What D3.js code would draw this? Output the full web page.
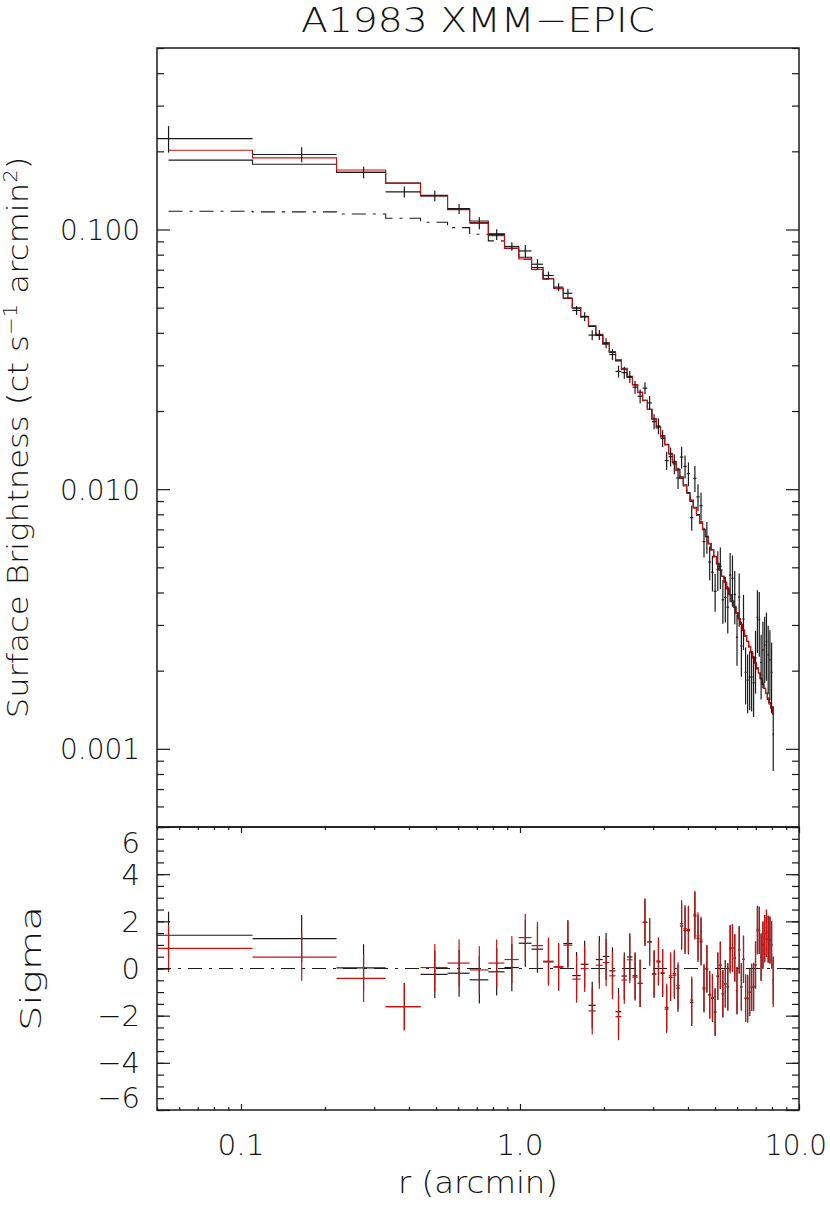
<!DOCTYPE html>
<html><head><meta charset="utf-8">
<script src="https://cdn.jsdelivr.net/npm/d3@7"></script>
<style>
html,body{margin:0;padding:0;background:#fff;}
svg text{font-family:"DejaVu Sans",sans-serif;font-weight:200;fill:#111;}
</style></head><body>
<svg id="chart" width="830" height="1206"></svg>
<script>
// ---------------- DATA ----------------
const title = "A1983 XMM\u2212EPIC";
const xTitle = "r (arcmin)";
const yTitleBottom = "Sigma";
const rCenters = [0.055,0.165,0.275,0.385,0.495,0.605,0.715,0.825,0.935,1.045,1.155,1.265,1.375,1.485,1.595,1.705,1.815,1.925,2.035,2.145,2.255,2.365,2.475,2.585,2.695,2.805,2.915,3.025,3.135,3.245,3.355,3.465,3.575,3.685,3.795,3.905,4.015,4.125,4.235,4.345,4.455,4.565,4.675,4.785,4.895,5.005,5.115,5.225,5.335,5.445,5.555,5.665,5.775,5.885,5.995,6.105,6.215,6.325,6.435,6.545,6.655,6.765,6.875,6.985,7.095,7.205,7.315,7.425,7.535,7.645,7.755,7.865,7.975,8.085];
const binHalfWidth = 0.055;
const brightness = [0.2239,0.1945,0.1661,0.1397,0.1348,0.1200,0.1058,0.0957,0.0860,0.0827,0.0735,0.0665,0.0600,0.0568,0.0488,0.0462,0.0392,0.0393,0.0365,0.0330,0.0284,0.0281,0.0271,0.0247,0.0228,0.0245,0.02149,0.01821,0.01751,0.01567,0.01289,0.01334,0.01252,0.01105,0.01329,0.01224,0.01148,0.00777,0.01101,0.00934,0.00864,0.00628,0.00656,0.00524,0.00479,0.00404,0.00491,0.00504,0.00375,0.00383,0.00351,0.00467,0.00454,0.00393,0.00269,0.00384,0.00249,0.00316,0.00197,0.00184,0.00189,0.00189,0.00180,0.00224,0.00321,0.00314,0.00215,0.00240,0.00251,0.00259,0.00230,0.00220,0.00197,0.00114];
const brightnessErr = [0.0262,0.0129,0.00854,0.00681,0.00635,0.00532,0.00567,0.00452,0.00323,0.00446,0.00340,0.00233,0.00212,0.00227,0.00193,0.00184,0.00171,0.00173,0.00161,0.00161,0.00149,0.00149,0.00144,0.00142,0.00141,0.00130,0.00133,0.00121,0.00124,0.00118,0.00103,0.00112,0.00111,0.00103,0.00129,0.00124,0.00121,0.000856,0.00126,0.00111,0.00106,0.000827,0.000920,0.000779,0.000753,0.000669,0.000854,0.000919,0.000715,0.000762,0.000727,0.001005,0.001014,0.000910,0.000601,0.000889,0.000596,0.000757,0.000488,0.000470,0.000483,0.000498,0.000474,0.000607,0.000870,0.000876,0.000600,0.000688,0.000719,0.000762,0.000677,0.000664,0.000595,0.000318];
const modelBlack = [0.185,0.1784,0.1662,0.1508,0.1355,0.1204,0.1079,0.0962,0.0859,0.0782,0.0714,0.0648,0.0594,0.0543,0.0498,0.0460,0.0423,0.0391,0.0362,0.0336,0.0312,0.0290,0.0270,0.0252,0.0236,0.0220,0.0203,0.0187,0.0174,0.0161,0.0149,0.01375,0.01280,0.01195,0.01115,0.01040,0.00970,0.00908,0.00852,0.00798,0.00748,0.00701,0.00658,0.00619,0.00584,0.00551,0.00518,0.00490,0.00462,0.00438,0.00415,0.00392,0.00371,0.00352,0.00334,0.00317,0.00301,0.00286,0.00272,0.00259,0.00247,0.00236,0.00225,0.00214,0.00205,0.00196,0.00187,0.00179,0.00171,0.00164,0.00157,0.00151,0.00145,0.00140];
const modelRed = [0.202,0.1887,0.1696,0.1508,0.1347,0.1193,0.1063,0.0947,0.0847,0.0770,0.0702,0.0645,0.0593,0.0545,0.0501,0.0463,0.0427,0.0395,0.0366,0.0339,0.0315,0.0292,0.0272,0.0253,0.0236,0.0220,0.0203,0.0187,0.0173,0.0160,0.0148,0.01367,0.01272,0.01183,0.01104,0.01030,0.00962,0.00901,0.00845,0.00792,0.00743,0.00698,0.00656,0.00618,0.00583,0.00550,0.00517,0.00490,0.00462,0.00438,0.00415,0.00393,0.00371,0.00353,0.00335,0.00317,0.00302,0.00287,0.00273,0.00260,0.00248,0.00236,0.00225,0.00214,0.00204,0.00196,0.00187,0.00178,0.00171,0.00163,0.00156,0.00150,0.00143,0.00137];
const componentDashDot = [0.1176,0.1169,0.1148,0.1105,0.1067,0.1017,0.0959,0.0904,0.0845,0.0768,0.0700,0.0643,0.0592,0.0544,0.0500,0.0462,0.0426,0.0394,0.0365,0.0338,0.0314,0.0291,0.0271,0.0252,0.0235,0.0219,0.0202,0.0186,0.0172,0.0159,0.0147,0.01362,0.01267,0.01178,0.01100,0.01026,0.00958,0.00897,0.00841,0.00789,0.00740,0.00695,0.00653,0.00615,0.00580,0.00548,0.00515,0.00488,0.00460,0.00436,0.00413,0.00391,0.00369,0.00351,0.00333,0.00316,0.00301,0.00286,0.00272,0.00259,0.00247,0.00235,0.00224,0.00213,0.00203,0.00195,0.00186,0.00177,0.00170,0.00162,0.00155,0.00149,0.00142,0.00136];
const sigmaBlack = [1.41,1.27,0.03,-1.62,-0.25,-0.20,-0.48,-0.14,0.04,1.07,0.82,0.28,0.06,1.06,-0.30,0.18,-1.56,0.38,0.51,-0.10,-1.83,-0.32,0.49,-0.31,-0.63,1.96,1.13,-0.24,0.28,-0.21,-1.72,-0.38,-0.28,-0.83,1.80,1.62,1.60,-1.44,2.23,1.28,1.13,-0.87,-0.03,-1.13,-1.27,-1.86,-0.34,0.13,-1.07,-0.65,-0.78,0.86,0.87,0.45,-0.94,0.79,-0.78,0.39,-1.25,-1.26,-1.01,-0.80,-0.76,0.15,1.66,1.62,0.48,0.99,1.27,1.49,1.24,1.21,1.00,-0.49];
const sigmaRed = [0.85,0.48,-0.42,-1.62,0.04,0.23,-0.06,0.23,0.38,1.31,0.97,0.31,0.08,0.99,-0.45,0.00,-1.80,0.14,0.25,-0.31,-2.04,-0.49,0.37,-0.37,-0.63,1.96,1.13,-0.22,0.32,-0.17,-1.65,-0.31,-0.21,-0.73,1.90,1.69,1.66,-1.34,2.30,1.38,1.21,-0.80,0.00,-1.10,-1.23,-1.83,-0.30,0.15,-1.07,-0.65,-0.78,0.79,0.87,0.45,-0.94,0.79,-0.78,0.39,-1.27,-1.30,-1.01,-0.80,-0.80,0.15,1.59,1.62,0.48,0.99,1.27,1.49,1.24,1.21,1.00,-0.63];
const yTicksTop = [0.1, 0.01, 0.001];
const yTickLabelsTop = ["0.100", "0.010", "0.001"];
const xTicks = [0.1, 1, 10];
const xTickLabels = ["0.1", "1.0", "10.0"];
const yTicksBottom = [6, 4, 2, 0, -2, -4, -6];
const yTickLabelsBottom = ["6", "4", "2", "0", "\u22122", "\u22124", "\u22126"];
const yMinorBottom = d3.range(-6, 6.01, 0.5);

// ---------------- LAYOUT ----------------
const L = 157, R = 799, T1 = 48, B1 = 827, B2 = 1110;
const INK = "#1a1a1a", RED = "#cc1010";
const svg = d3.select("#chart");
const x = d3.scaleLog().domain([0.05, 10]).range([L, R]);
const y1 = d3.scaleLog().domain([0.0005, 0.5]).range([B1, T1]);
const y2 = d3.scaleLinear().domain([-6, 6]).range([B2, B1]);
const xmin = x.domain()[0], xmax = x.domain()[1];

const defs = svg.append("defs");
defs.append("clipPath").attr("id", "clipTop").append("rect").attr("x", L).attr("y", T1).attr("width", R - L).attr("height", B1 - T1);
defs.append("clipPath").attr("id", "clipBot").append("rect").attr("x", L).attr("y", B1).attr("width", R - L).attr("height", B2 - B1);

const idx = d3.range(rCenters.length);
const last = rCenters.length - 1;
const lo = i => Math.max(rCenters[i] - binHalfWidth, xmin);
const hi = i => Math.min(rCenters[i] + binHalfWidth, xmax);

// histogram-style (IDL psym=10) step line through bin edges
function stepPoints(vals) {
  const pts = [];
  idx.forEach(i => {
    const a = i === 0 ? rCenters[0] : rCenters[i] - binHalfWidth;
    const b = i === last ? rCenters[last] : rCenters[i] + binHalfWidth;
    pts.push([a, vals[i]], [b, vals[i]]);
  });
  return pts;
}
const lineTop = d3.line().x(d => x(d[0])).y(d => y1(d[1]));

// ---------------- TOP PANEL ----------------
const gTop = svg.append("g").attr("clip-path", "url(#clipTop)");
gTop.append("path").attr("d", lineTop(stepPoints(componentDashDot)))
  .attr("fill", "none").attr("stroke", INK).attr("stroke-width", 1.1).attr("stroke-dasharray", "14,7,3,7");
gTop.append("path").attr("d", lineTop(stepPoints(modelBlack)))
  .attr("fill", "none").attr("stroke", INK).attr("stroke-width", 1.1);
gTop.append("path").attr("d", lineTop(stepPoints(modelRed)))
  .attr("fill", "none").attr("stroke", RED).attr("stroke-width", 1.1);
const crosses = gTop.append("g").attr("stroke", INK).attr("stroke-width", 1.2);
idx.forEach(i => {
  crosses.append("line").attr("x1", x(lo(i))).attr("x2", x(hi(i)))
    .attr("y1", y1(brightness[i])).attr("y2", y1(brightness[i]));
  crosses.append("line").attr("x1", x(rCenters[i])).attr("x2", x(rCenters[i]))
    .attr("y1", y1(brightness[i] + brightnessErr[i])).attr("y2", y1(Math.max(brightness[i] - brightnessErr[i], 1e-5)));
});

// ---------------- BOTTOM PANEL ----------------
const gBot = svg.append("g").attr("clip-path", "url(#clipBot)");
gBot.append("line").attr("x1", x(xmin)).attr("x2", x(xmax)).attr("y1", y2(0)).attr("y2", y2(0))
  .attr("stroke", INK).attr("stroke-width", 1.1).attr("stroke-dasharray", "14,7,3,7");
function residuals(vals, color) {
  const g = gBot.append("g").attr("stroke", color).attr("stroke-width", 1.2);
  idx.forEach(i => {
    g.append("line").attr("x1", x(lo(i))).attr("x2", x(hi(i))).attr("y1", y2(vals[i])).attr("y2", y2(vals[i]));
    g.append("line").attr("x1", x(rCenters[i])).attr("x2", x(rCenters[i])).attr("y1", y2(vals[i] + 1)).attr("y2", y2(vals[i] - 1));
  });
}
residuals(sigmaBlack, INK);
residuals(sigmaRed, RED);

// ---------------- AXES / TICKS ----------------
function ticks(axis, tx, ty) {
  const g = svg.append("g").attr("transform", `translate(${tx},${ty})`).call(axis);
  g.select(".domain").remove();
  g.selectAll("text").remove();
  g.selectAll("line").attr("stroke", INK).attr("stroke-width", 1.2);
  return g;
}
const yMinorTop = y1.ticks().filter(v => !yTicksTop.some(t => Math.abs(t - v) / t < 1e-6));
ticks(d3.axisRight(y1).tickValues(yMinorTop).tickSize(7), L, 0);
ticks(d3.axisRight(y1).tickValues(yTicksTop).tickSize(13), L, 0);
ticks(d3.axisLeft(y1).tickValues(yMinorTop).tickSize(7), R, 0);
ticks(d3.axisLeft(y1).tickValues(yTicksTop).tickSize(13), R, 0);

ticks(d3.axisRight(y2).tickValues(yMinorBottom).tickSize(7), L, 0);
ticks(d3.axisRight(y2).tickValues(yTicksBottom).tickSize(13), L, 0);
ticks(d3.axisLeft(y2).tickValues(yMinorBottom).tickSize(7), R, 0);
ticks(d3.axisLeft(y2).tickValues(yTicksBottom).tickSize(13), R, 0);

const xMinor = x.ticks().filter(v => !xTicks.some(t => Math.abs(t - v) / t < 1e-6));
ticks(d3.axisTop(x).tickValues(xMinor).tickSize(3), 0, B2);
ticks(d3.axisTop(x).tickValues(xTicks).tickSize(6), 0, B2);
ticks(d3.axisBottom(x).tickValues(xMinor).tickSize(3), 0, B1);
ticks(d3.axisBottom(x).tickValues(xTicks).tickSize(6), 0, B1);

// frames
svg.append("rect").attr("x", L).attr("y", T1).attr("width", R - L).attr("height", B1 - T1)
  .attr("fill", "none").attr("stroke", INK).attr("stroke-width", 1.5);
svg.append("rect").attr("x", L).attr("y", B1).attr("width", R - L).attr("height", B2 - B1)
  .attr("fill", "none").attr("stroke", INK).attr("stroke-width", 1.5);

// ---------------- TEXT ----------------
function label(tx, ty, rot, anchor, size, target, build) {
  const g = svg.append("g").attr("transform", `translate(${tx},${ty}) rotate(${rot})`);
  const t = g.append("text").attr("text-anchor", anchor).attr("font-size", size);
  if (typeof build === "string") t.text(build); else build(t);
  if (target) {
    const w = t.node().getBBox().width;
    if (w > 0) t.attr("transform", `scale(${target / w},1)`);
  }
  return t;
}
label((L + R) / 2, 32, 0, "middle", 34, 354, title);

// y tick labels (top panel)
yTicksTop.forEach((v, i) => label(140, y1(v) + 10.5, 0, "end", 29, 80, yTickLabelsTop[i]));
// y tick labels (bottom panel); the end labels sit just inside the panel as in the original
yTicksBottom.forEach((v, i) => {
  let yy = y2(v) + 10.5;
  if (i === 0) yy += 15;
  if (i === yTicksBottom.length - 1) yy -= 13;
  label(140, yy, 0, "end", 29, null, yTickLabelsBottom[i]);
});
// x tick labels
xTicks.forEach((v, i) => {
  if (i === xTicks.length - 1) label(827, 1155, 0, "end", 29, 62, xTickLabels[i]);
  else label(x(v), 1155, 0, "middle", 29, 47, xTickLabels[i]);
});

label((L + R) / 2, 1193, 0, "middle", 30, 160, xTitle);
label(41, y2(0), -90, "middle", 29, 125, yTitleBottom);
label(28, (T1 + B1) / 2, -90, "middle", 29, 562, t => {
  t.append("tspan").text("Surface Brightness (ct s");
  t.append("tspan").attr("dy", -11).attr("font-size", 19).text("\u22121");
  t.append("tspan").attr("dy", 11).text(" arcmin");
  t.append("tspan").attr("dy", -11).attr("font-size", 19).text("2");
  t.append("tspan").attr("dy", 11).text(")");
});
</script>
</body></html>
